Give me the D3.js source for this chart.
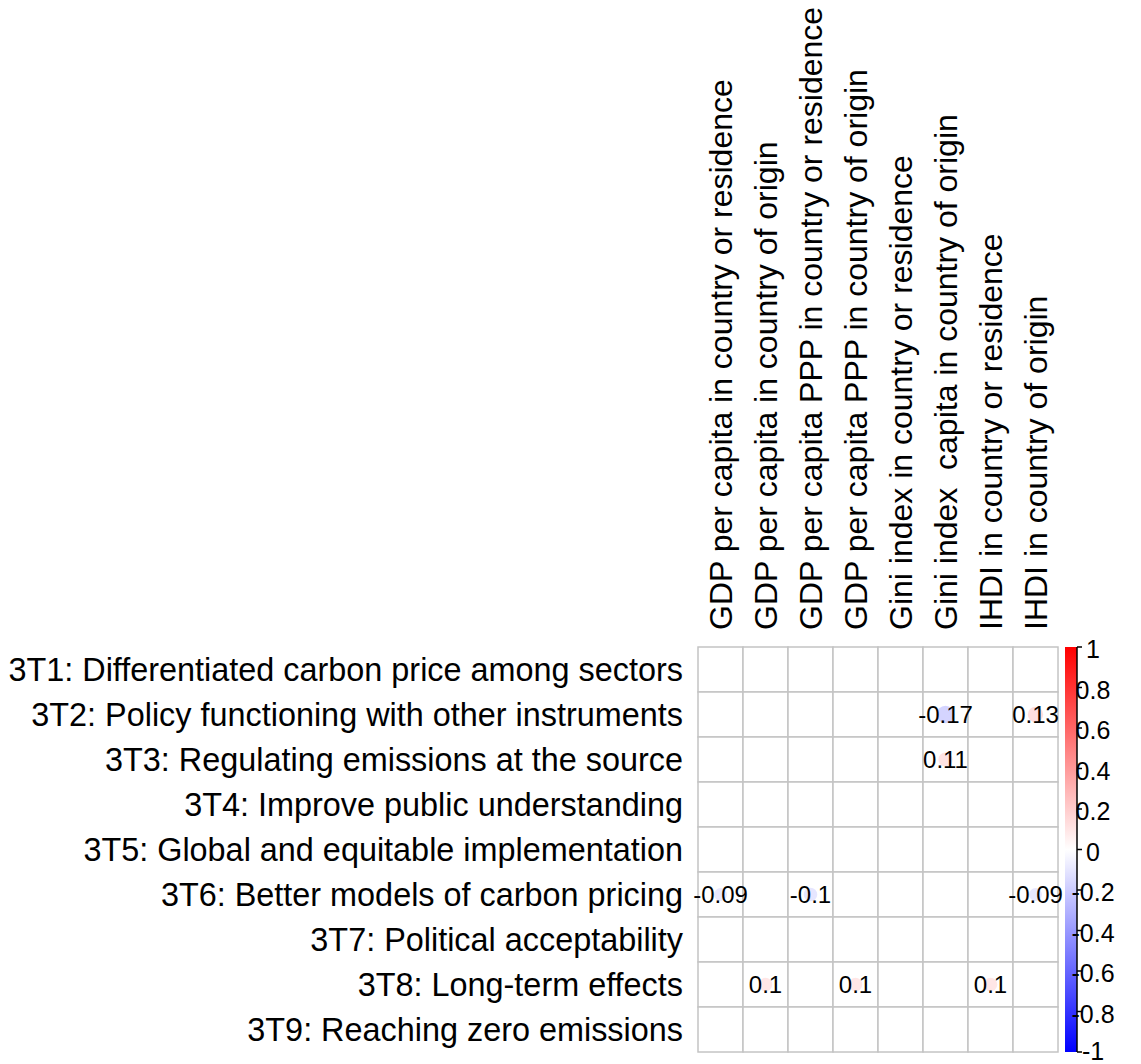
<!DOCTYPE html>
<html>
<head>
<meta charset="utf-8">
<script src="https://cdn.jsdelivr.net/npm/d3@7"></script>
<style>
  html, body { margin: 0; padding: 0; background: #fff; }
  svg text { font-family: "Liberation Sans", Arial, sans-serif; fill: #000; }
</style>
</head>
<body>
<svg id="chart" width="1141" height="1064"></svg>
<script>
// Row variables (themes) and column variables (country indicators)
const rowLabels = [
  "3T1: Differentiated carbon price among sectors",
  "3T2: Policy functioning with other instruments",
  "3T3: Regulating emissions at the source",
  "3T4: Improve public understanding",
  "3T5: Global and equitable implementation",
  "3T6: Better models of carbon pricing",
  "3T7: Political acceptability",
  "3T8: Long-term effects",
  "3T9: Reaching zero emissions"
];
const colLabels = [
  "GDP per capita in country or residence",
  "GDP per capita in country of origin",
  "GDP per capita PPP in country or residence",
  "GDP per capita PPP in country of origin",
  "Gini index in country or residence",
  "Gini index  capita in country of origin",
  "IHDI in country or residence",
  "IHDI in country of origin"
];
// Correlations shown (blank cells = not significant)
const corrValues = [
  [null, null, null, null, null, null, null, null],
  [null, null, null, null, null, -0.17, null, 0.13],
  [null, null, null, null, null, 0.11, null, null],
  [null, null, null, null, null, null, null, null],
  [null, null, null, null, null, null, null, null],
  [-0.09, null, -0.1, null, null, null, null, -0.09],
  [null, null, null, null, null, null, null, null],
  [null, 0.1, null, 0.1, null, null, 0.1, null],
  [null, null, null, null, null, null, null, null]
];
const legendTicks = [1, 0.8, 0.6, 0.4, 0.2, 0, -0.2, -0.4, -0.6, -0.8, -1];

const svg = d3.select("#chart");
svg.append("rect").attr("width", 1141).attr("height", 1064).attr("fill", "#fff");

const x = d3.scaleBand().domain(d3.range(colLabels.length)).range([698, 1058]);
const y = d3.scaleBand().domain(d3.range(rowLabels.length)).range([647, 1052]);
const color = d3.scaleLinear().domain([-1, 0, 1]).range(["#0000ff", "#ffffff", "#ff0000"]);
const radius = d3.scaleSqrt().domain([0, 1]).range([0, x.bandwidth() / 2 * 0.95]);

// grid cells
const cells = [];
corrValues.forEach((row, i) => row.forEach((v, j) => cells.push({ i, j, v })));

svg.append("g").selectAll("rect").data(cells).join("rect")
  .attr("x", d => x(d.j)).attr("y", d => y(d.i))
  .attr("width", x.bandwidth()).attr("height", y.bandwidth())
  .attr("fill", "#fff").attr("stroke", "#c4c4c4").attr("stroke-width", 1.5);

const shown = cells.filter(d => d.v !== null);

svg.append("g").selectAll("circle").data(shown).join("circle")
  .attr("cx", d => x(d.j) + x.bandwidth() / 2)
  .attr("cy", d => y(d.i) + y.bandwidth() / 2)
  .attr("r", d => radius(Math.abs(d.v)))
  .attr("fill", d => color(d.v));

svg.append("g").selectAll("text").data(shown).join("text")
  .attr("x", d => x(d.j) + x.bandwidth() / 2)
  .attr("y", d => y(d.i) + y.bandwidth() / 2)
  .attr("dy", "0.36em")
  .attr("text-anchor", "middle")
  .attr("font-size", 24)
  .text(d => String(d.v));

// row labels
svg.append("g").selectAll("text").data(rowLabels).join("text")
  .attr("x", 683)
  .attr("y", (d, i) => y(i) + y.bandwidth() / 2)
  .attr("dy", "0.34em")
  .attr("text-anchor", "end")
  .attr("font-size", 32.4)
  .text(d => d);

// column labels, rotated
svg.append("g").selectAll("text").data(colLabels).join("text")
  .attr("transform", (d, i) => `translate(${x(i) + x.bandwidth() / 2},630) rotate(-90)`)
  .attr("dy", "0.36em")
  .attr("text-anchor", "start")
  .attr("font-size", 32)
  .style("white-space", "pre")
  .text(d => d);

// colour legend
const defs = svg.append("defs");
const grad = defs.append("linearGradient").attr("id", "corrGrad")
  .attr("x1", 0).attr("y1", 1).attr("x2", 0).attr("y2", 0);
d3.range(0, 1.0001, 0.05).forEach(t => {
  grad.append("stop").attr("offset", t).attr("stop-color", color(-1 + 2 * t));
});

const barX0 = 1065, barX1 = 1077;
const ly = d3.scaleLinear().domain([-1, 1]).range([1052, 647]);

svg.append("rect")
  .attr("x", barX0).attr("y", ly(1))
  .attr("width", barX1 - barX0).attr("height", ly(-1) - ly(1))
  .attr("fill", "url(#corrGrad)");

svg.append("line")
  .attr("x1", barX1).attr("x2", barX1)
  .attr("y1", ly(1)).attr("y2", ly(-1))
  .attr("stroke", "#000").attr("stroke-width", 1.5);

const lg = svg.append("g");
lg.selectAll("line.tick").data(legendTicks).join("line")
  .attr("class", "tick")
  .attr("x1", barX1).attr("x2", barX1 + 5)
  .attr("y1", d => ly(d)).attr("y2", d => ly(d))
  .attr("stroke", "#000").attr("stroke-width", 1.5);

lg.selectAll("text").data(legendTicks).join("text")
  .attr("x", 1093)
  .attr("y", d => Math.min(ly(d) + 2, 1051))
  .attr("dy", "0.36em")
  .attr("text-anchor", "middle")
  .attr("font-size", 25)
  .text(d => String(d));
</script>
</body>
</html>
